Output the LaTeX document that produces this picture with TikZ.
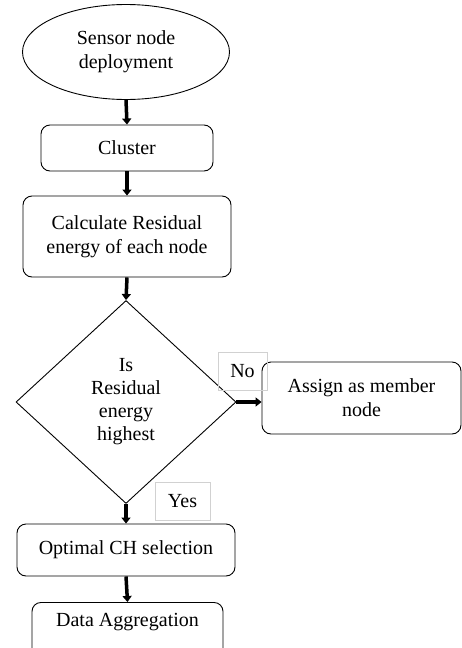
\documentclass[tikz,border=0pt]{standalone}
\usepackage{fontspec}
\setmainfont{Liberation Serif}
\usepackage{tikz}
\usetikzlibrary{shapes.geometric, arrows.meta}
\tikzset{
  stepbox/.style={rectangle, rounded corners=9pt, draw=black,
                  line width=0.9pt, align=center, inner sep=0pt,
                  font=\fontsize{20}{24}\selectfont},
  startE/.style={ellipse, draw=black, line width=0.9pt, align=center,
                 inner sep=0pt, font=\fontsize{20}{24}\selectfont},
  decisionD/.style={diamond, draw=black, line width=0.9pt, align=center,
                    inner sep=0pt, font=\fontsize{20}{23}\selectfont},
  tagbox/.style={rectangle, draw=black!18, line width=0.8pt,
                 inner sep=0pt, font=\fontsize{20}{24}\selectfont},
  flow/.style={-{Triangle[length=6pt,width=9pt]}, line width=3.5pt},
}
\begin{document}
\begin{tikzpicture}[x=1pt, y=-1pt]
  \clip (0,0) rectangle (462,648);

  %% Main column
  \node[startE, minimum width=207pt, minimum height=95pt] (deploy)
    at (126,52) {Sensor node\\deployment};
  \node[stepbox, minimum width=172pt, minimum height=46pt] (cluster)
    at (127,148) {Cluster};
  \node[stepbox, minimum width=208pt, minimum height=81pt] (residual)
    at (127,236.5) {Calculate Residual\\energy of each node};
  \node[decisionD, minimum width=220pt, minimum height=203pt] (decide)
    at (126,402) {Is\\Residual\\energy\\highest};
  \node[stepbox, minimum width=218pt, minimum height=52pt] (optimal)
    at (126,550) {Optimal CH selection};
  \node[stepbox, anchor=north, minimum width=191pt, text height=14pt,
        text depth=40pt, inner ysep=10pt] (aggregate)
    at (127.5,602) {Data Aggregation};

  %% Side branch
  \node[stepbox, minimum width=199pt, minimum height=72pt] (member)
    at (361.5,398) {Assign as member\\node};

  %% Branch tags
  \node[tagbox, minimum width=49pt, minimum height=38pt] (lblNo)
    at (242.5,371) {No};
  \node[tagbox, minimum width=55pt, minimum height=38pt] (lblYes)
    at (182.5,501) {Yes};

  %% Arrows
  \draw[flow] (deploy.south) -- (cluster.north);
  \draw[flow] (cluster.south) -- (residual.north);
  \draw[flow] (residual.south) -- (decide.north);
  \draw[flow] (decide.east) -- (decide.east -| member.west);
  \draw[flow] (decide.south) -- (optimal.north);
  \draw[flow] (optimal.south) -- (aggregate.north);
\end{tikzpicture}
\end{document}
